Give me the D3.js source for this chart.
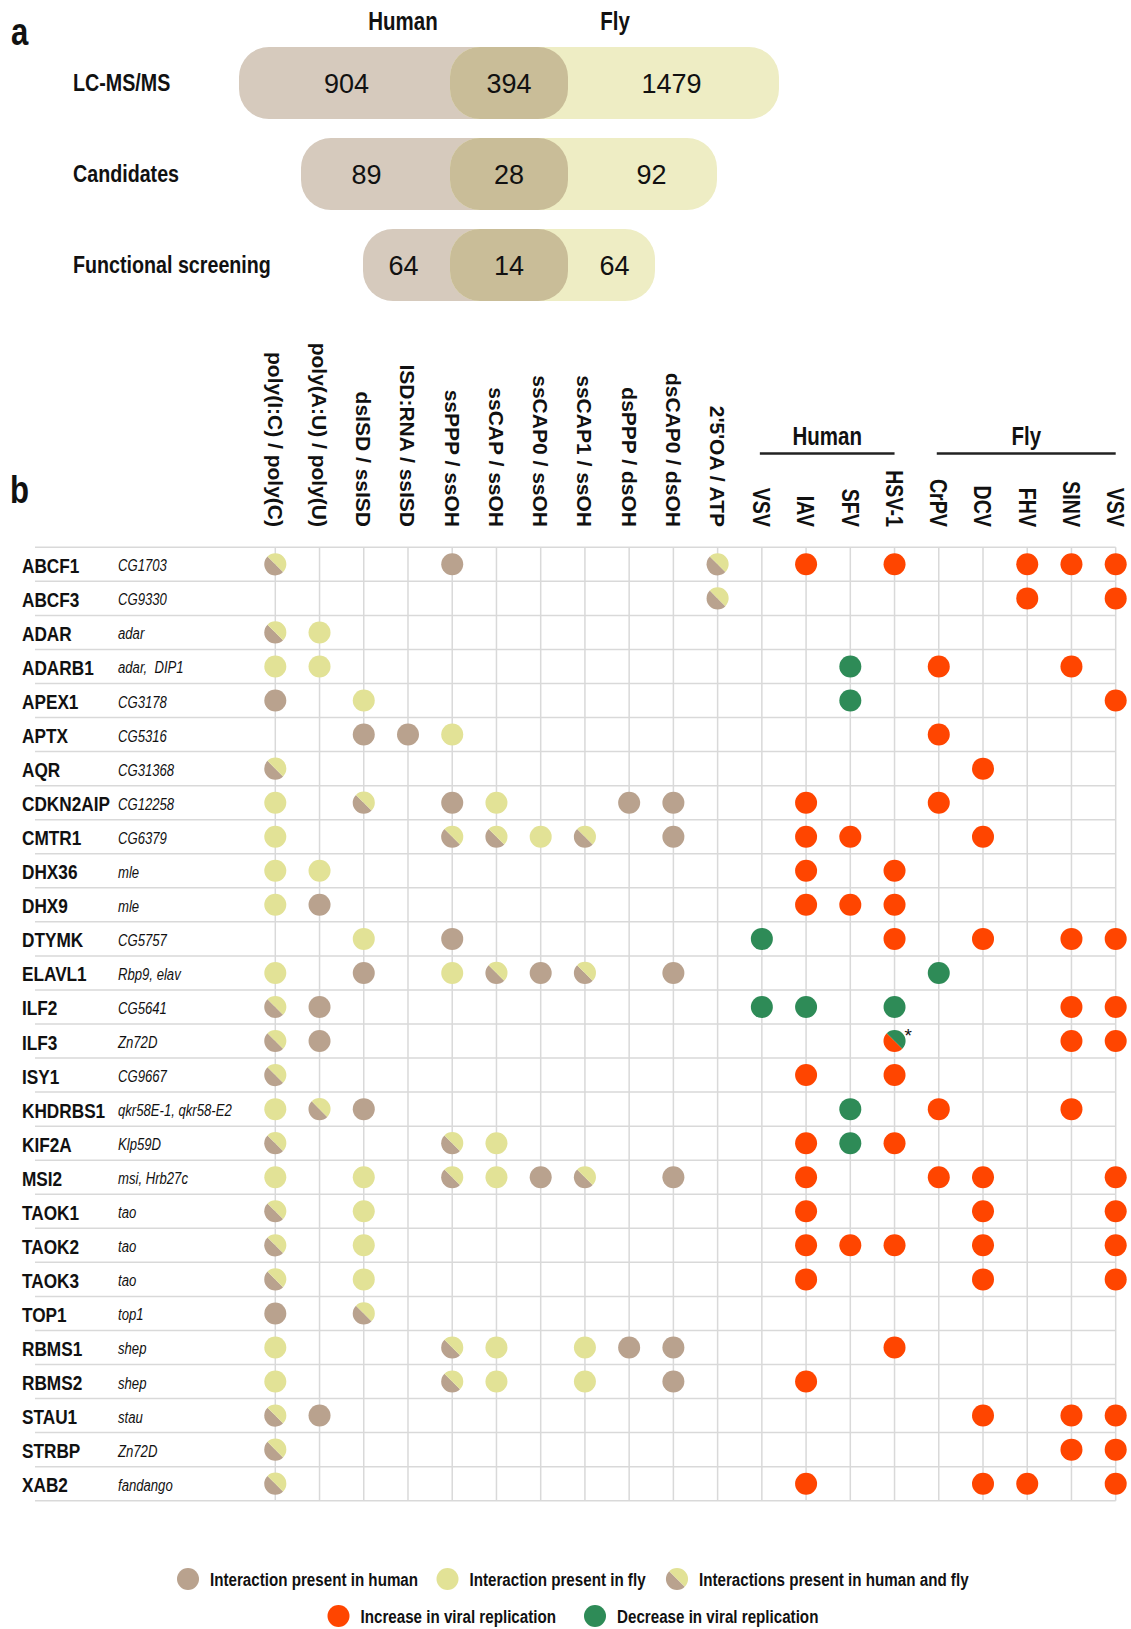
<!DOCTYPE html>
<html>
<head>
<meta charset="utf-8">
<script src="https://cdn.jsdelivr.net/npm/d3@7"></script>
<style>
  body { margin: 0; background: #fff; }
  svg text { font-family: 'Liberation Sans', Arial, sans-serif; fill: #111; }
</style>
</head>
<body>
<div id="chart"></div>
<script>
// ---- panel a data ----
const stages = ['LC-MS/MS', 'Candidates', 'Functional screening'];
const humanOnly = [904, 89, 64];
const shared = [394, 28, 14];
const flyOnly = [1479, 92, 64];

// ---- panel b data ----
const genes = ['ABCF1', 'ABCF3', 'ADAR', 'ADARB1', 'APEX1', 'APTX', 'AQR', 'CDKN2AIP',
  'CMTR1', 'DHX36', 'DHX9', 'DTYMK', 'ELAVL1', 'ILF2', 'ILF3', 'ISY1', 'KHDRBS1',
  'KIF2A', 'MSI2', 'TAOK1', 'TAOK2', 'TAOK3', 'TOP1', 'RBMS1', 'RBMS2', 'STAU1',
  'STRBP', 'XAB2'];
const orthologs = ['CG1703', 'CG9330', 'adar', 'adar,  DIP1', 'CG3178', 'CG5316',
  'CG31368', 'CG12258', 'CG6379', 'mle', 'mle', 'CG5757', 'Rbp9, elav', 'CG5641',
  'Zn72D', 'CG9667', 'qkr58E-1, qkr58-E2', 'Klp59D', 'msi, Hrb27c', 'tao', 'tao', 'tao',
  'top1', 'shep', 'shep', 'stau', 'Zn72D', 'fandango'];
const ligands = ['poly(I:C) / poly(C)', 'poly(A:U) / poly(U)', 'dsISD / ssISD',
  'ISD:RNA / ssISD', 'ssPPP / ssOH', 'ssCAP / ssOH', 'ssCAP0 / ssOH', 'ssCAP1 / ssOH',
  'dsPPP / dsOH', 'dsCAP0 / dsOH', "2'5'OA / ATP"];
const humanViruses = ['VSV', 'IAV', 'SFV', 'HSV-1'];
const flyViruses = ['CrPV', 'DCV', 'FHV', 'SINV', 'VSV'];

// binding per gene, one char per ligand: h = human, f = fly, b = both, . = none
const binding = [
  'b...h.....b', '..........b', 'bf.........', 'ff.........', 'h.f........',
  '..hhf......', 'b..........', 'f.b.hf..hh.', 'f...bbfb.h.', 'ff.........',
  'fh.........', '..f.h......', 'f.h.fbhb.h.', 'bh.........', 'bh.........',
  'b..........', 'fbh........', 'b...bf.....', 'f.f.bfhb.h.', 'b.f........',
  'b.f........', 'b.f........', 'h.b........', 'f...bf.fhh.', 'f...bf.f.h.',
  'bh.........', 'b..........', 'b..........'];
// viral replication per gene (human viruses then fly viruses): + increase, - decrease, x both
const effect = [
  '.+.+..+++', '......+.+', '.........', '..-.+..+.', '..-.....+',
  '....+....', '.....+...', '.+..+....', '.++..+...', '.+.+.....',
  '.+++.....', '-..+.+.++', '....-....', '--.-...++', '...x...++',
  '.+.+.....', '..-.+..+.', '.+-+.....', '.+..++..+', '.+...+..+',
  '.+++.+..+', '.+...+..+', '.........', '...+.....', '.+.......',
  '.....+.++', '.......++', '.+...++.+'];

const legendRows = [
  [['h', 'Interaction present in human'], ['f', 'Interaction present in fly'],
    ['b', 'Interactions present in human and fly']],
  [['+', 'Increase in viral replication'], ['-', 'Decrease in viral replication']],
];

const colors = {
  h: '#b9a28e', f: '#e2e296', '+': '#ff4500', '-': '#2e8b57',
  pillHuman: '#d6cabd', pillFly: '#eeedc4', pillShared: '#c9bd98', grid: '#d9d9d9',
};

const width = 1131;
const height = 1629;
const NARROW = 0.82; // condensed face is not installed: squeeze the regular one
const svg = d3.select('#chart').append('svg')
  .attr('width', width)
  .attr('height', height);

// text in the condensed style, placed at (px, py)
function narrow(parent, px, py, size, txt, extra = '') {
  return parent.append('text')
    .attr('transform', `translate(${px},${py}) ${extra} scale(${NARROW},1)`)
    .style('font-size', `${size}px`)
    .style('font-weight', 'bold')
    .text(txt);
}

// ================= panel a =================
const a = svg.append('g');
narrow(a, 11, 45, 38, 'a');

const yA = d3.scalePoint().domain(stages).range([83, 265]);
const outer = d3.scaleLinear().domain([0, stages.length - 1]).range([211, 87]);
const overlapL = 450;
const overlapR = 568;
const pillH = 72;
const pillR = 30;
const numNudge = [-2, 9, 3]; // numbers sit a little off the segment middle

narrow(a, 403, 30, 25, 'Human').attr('text-anchor', 'middle');
narrow(a, 615, 30, 25, 'Fly').attr('text-anchor', 'middle');

stages.forEach((s, i) => {
  const cy = yA(s);
  const hx0 = overlapL - outer(i);
  const fx1 = overlapR + outer(i);
  const clipId = `clip-${i}`;
  a.append('clipPath').attr('id', clipId).append('rect')
    .attr('x', hx0).attr('y', cy - pillH / 2)
    .attr('width', overlapR - hx0).attr('height', pillH)
    .attr('rx', pillR).attr('ry', pillR);

  a.append('rect')
    .attr('x', hx0).attr('y', cy - pillH / 2)
    .attr('width', overlapR - hx0).attr('height', pillH)
    .attr('rx', pillR).attr('ry', pillR)
    .attr('fill', colors.pillHuman);
  a.append('rect')
    .attr('x', overlapL).attr('y', cy - pillH / 2)
    .attr('width', fx1 - overlapL).attr('height', pillH)
    .attr('rx', pillR).attr('ry', pillR)
    .attr('fill', colors.pillFly);
  a.append('rect')
    .attr('x', overlapL).attr('y', cy - pillH / 2)
    .attr('width', fx1 - overlapL).attr('height', pillH)
    .attr('rx', pillR).attr('ry', pillR)
    .attr('clip-path', `url(#${clipId})`)
    .attr('fill', colors.pillShared);

  narrow(a, 73, cy + 8, 24, s);

  const nums = [
    [(hx0 + overlapL) / 2 - numNudge[i], humanOnly[i]],
    [(overlapL + overlapR) / 2, shared[i]],
    [(overlapR + fx1) / 2 + numNudge[i], flyOnly[i]],
  ];
  nums.forEach(([nx, v]) => {
    a.append('text').attr('x', nx).attr('y', cy + 10)
      .attr('text-anchor', 'middle').style('font-size', '27px').text(v);
  });
});

// ================= panel b =================
const b = svg.append('g');
narrow(b, 10, 503, 38, 'b');

const colKeys = ligands.map((d, i) => `l${i}`)
  .concat(humanViruses.map((d, i) => `h${i}`))
  .concat(flyViruses.map((d, i) => `f${i}`));
const x = d3.scalePoint().domain(colKeys).range([275.3, 1115.7]);
const y = d3.scaleBand().domain(genes).range([547.3, 1500.7]);
const headerBottom = 527;

// grid
const rowEdges = genes.map((g) => y(g)).concat([y.range()[1]]);
b.append('g').selectAll('line').data(rowEdges).join('line')
  .attr('x1', 35).attr('x2', x.range()[1])
  .attr('y1', (d) => d).attr('y2', (d) => d)
  .attr('stroke', colors.grid).attr('stroke-width', 1.5);
b.append('g').selectAll('line').data(colKeys).join('line')
  .attr('x1', (d) => x(d)).attr('x2', (d) => x(d))
  .attr('y1', y.range()[0]).attr('y2', y.range()[1])
  .attr('stroke', colors.grid).attr('stroke-width', 1.5);

// column headers (rotated)
b.append('g').selectAll('text').data(ligands).join('text')
  .attr('transform', (d, i) => `translate(${x(`l${i}`)},${headerBottom}) rotate(90)`)
  .attr('text-anchor', 'end')
  .attr('dy', '0.36em')
  .style('font-size', '21px')
  .style('font-weight', 'bold')
  .text((d) => d);

const virusHeads = humanViruses.map((d, i) => [`h${i}`, d])
  .concat(flyViruses.map((d, i) => [`f${i}`, d]));
virusHeads.forEach(([key, label]) => {
  narrow(b, x(key), headerBottom, 24, label, 'rotate(90)')
    .attr('text-anchor', 'end')
    .attr('dy', '0.36em');
});

// group headers
const groups = [
  ['Human', x('h0') - 2, x(`h${humanViruses.length - 1}`)],
  ['Fly', x('f0') - 2, x(`f${flyViruses.length - 1}`)],
];
groups.forEach(([label, x0, x1]) => {
  b.append('line').attr('x1', x0).attr('x2', x1).attr('y1', 453.5).attr('y2', 453.5)
    .attr('stroke', '#222').attr('stroke-width', 2.5);
  narrow(b, (x0 + x1) / 2, 445, 25, label).attr('text-anchor', 'middle');
});

// row labels
genes.forEach((g, i) => {
  const cy = y(g) + y.bandwidth() / 2;
  narrow(b, 22, cy + 8.5, 21, g);
  narrow(b, 118, cy + 7, 16, orthologs[i])
    .style('font-weight', 'normal')
    .style('font-style', 'italic')
    .style('white-space', 'pre');
});

// cells
const cells = [];
genes.forEach((g, gi) => {
  binding[gi].split('').forEach((c, ci) => {
    if (c !== '.') cells.push({ gene: g, col: `l${ci}`, code: c });
  });
  effect[gi].split('').forEach((c, ci) => {
    if (c === '.') return;
    const key = ci < humanViruses.length ? `h${ci}` : `f${ci - humanViruses.length}`;
    cells.push({ gene: g, col: key, code: c });
  });
});

const r = 11;
const halfA = d3.arc().innerRadius(0).outerRadius(r)
  .startAngle(-Math.PI / 4).endAngle((3 * Math.PI) / 4);
const halfB = d3.arc().innerRadius(0).outerRadius(r)
  .startAngle((3 * Math.PI) / 4).endAngle((7 * Math.PI) / 4);

function drawMark(g, code) {
  if (code === 'b' || code === 'x') {
    const top = code === 'b' ? colors.f : colors['-'];
    const bottom = code === 'b' ? colors.h : colors['+'];
    g.append('path').attr('d', halfB()).attr('fill', bottom);
    g.append('path').attr('d', halfA()).attr('fill', top);
  } else {
    g.append('circle').attr('r', r).attr('fill', colors[code]);
  }
}

const cellG = b.append('g').selectAll('g').data(cells).join('g')
  .attr('transform', (d) => `translate(${x(d.col)},${y(d.gene) + y.bandwidth() / 2})`);
cellG.each(function (d) { drawMark(d3.select(this), d.code); });

// asterisk on the mixed HSV-1 result
cells.filter((d) => d.code === 'x').forEach((d) => {
  b.append('text')
    .attr('x', x(d.col) + 10)
    .attr('y', y(d.gene) + y.bandwidth() / 2 + 1)
    .style('font-size', '19px')
    .text('*');
});

// legend
const legendX = [[188, 447.5, 677], [338.5, 595]];
const legendY = [1579, 1616];
legendRows.forEach((row, ri) => {
  row.forEach(([code, label], i) => {
    const lg = b.append('g').attr('transform', `translate(${legendX[ri][i]},${legendY[ri]})`);
    drawMark(lg, code);
    narrow(lg, 22, 6.5, 18.5, label);
  });
});
</script>
</body>
</html>
